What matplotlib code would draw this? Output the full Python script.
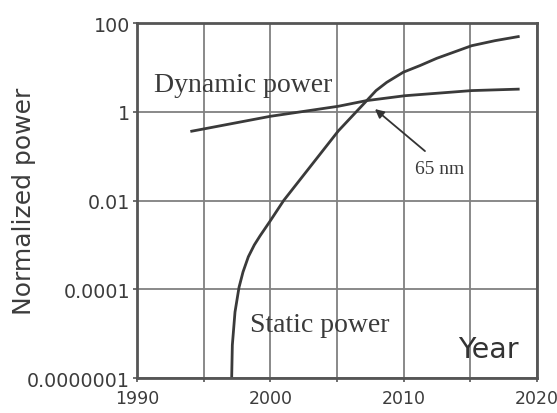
import matplotlib
matplotlib.use('Agg')

import matplotlib.pyplot as plt
import numpy as np

# static (leakage) power, normalized
static_years = [1997.1, 1997.15, 1997.35, 1997.65, 1997.95, 1998.35, 1998.8, 1999.23,
                2000.0, 2001.0, 2002.85, 2005.1, 2007.23, 2007.93, 2008.73, 2009.98,
                2011.23, 2012.48, 2015.1, 2016.85, 2018.7]
static_power = [1e-7, 1.3e-6, 1.7e-5, 1.1e-4, 2.45e-4, 5.4e-4, 1.0e-3, 1.6e-3,
                3.5e-3, 1.0e-2, 5.1e-2, 0.37, 1.78, 3.0, 4.6, 7.8,
                11.0, 16.0, 30.8, 40.0, 50.0]

# dynamic (switching) power, normalized
dynamic_years = [1994.0, 1995.0, 2000.0, 2005.1, 2007.2, 2010.1, 2015.1, 2018.7]
dynamic_power = [0.36, 0.41, 0.79, 1.33, 1.78, 2.3, 3.0, 3.24]

ytick_vals = [1e-7, 1e-4, 1e-2, 1, 100]
ytick_labels = ['0.0000001', '0.0001', '0.01', '1', '100']
xtick_vals = [1990, 2000, 2010, 2020]

node_year, node_power = 2007.85, 1.15   # 65 nm crossover
arrow_tail = (2011.6, 0.13)


# below 1e-4 the axis squeezes three decades into the room of two
def fwd(v):
    l = np.log10(np.clip(v, 1e-12, None))
    return np.where(l >= -4, l, -4 + (l + 4) * 2.0 / 3.0)

def inv(s):
    return np.where(s >= -4, 10.0 ** s, 10.0 ** (-4 + (s + 4) * 1.5))


fig = plt.figure(figsize=(5.57, 4.14), dpi=100)
ax = fig.add_axes([0.246, 0.0845, 0.718, 0.8575])
ax.set_yscale('function', functions=(fwd, inv))

ax.set_xlim(1990, 2020)
ax.set_ylim(1e-7, 100)

line_col = '#3a3a3a'
ax.plot(static_years, static_power, color=line_col, lw=2.0, solid_capstyle='butt',
        solid_joinstyle='round')
ax.plot(dynamic_years, dynamic_power, color=line_col, lw=2.0, solid_capstyle='butt',
        solid_joinstyle='round')

ax.set_xticks(xtick_vals)
ax.set_xticks([1995, 2005, 2015], minor=True)
ax.set_yticks(ytick_vals)
ax.set_yticklabels(ytick_labels)
ax.yaxis.set_minor_locator(matplotlib.ticker.NullLocator())
ax.grid(True, which='both', color='#808080', lw=1.3)
ax.set_axisbelow(True)

for s in ax.spines.values():
    s.set_color('#555555')
    s.set_linewidth(2.0)

ax.tick_params(axis='both', which='both', length=3, width=1.2, color='#555555',
               labelcolor='#3c3c3c')
ax.tick_params(axis='y', pad=2, labelsize=13.7)
ax.tick_params(axis='x', pad=5, labelsize=12.5)

ax.set_ylabel('Normalized power', fontsize=18, color='#3c3c3c')
ax.yaxis.set_label_coords(-0.2525, 0.50)

serif = 'Liberation Serif'
ax.text(0.266, 0.828, 'Dynamic power', transform=ax.transAxes, ha='center', va='center',
        family=serif, fontsize=20, color='#3a3a3a')
ax.text(0.457, 0.152, 'Static power', transform=ax.transAxes, ha='center', va='center',
        family=serif, fontsize=20, color='#3a3a3a')
ax.text(0.879, 0.082, 'Year', transform=ax.transAxes, ha='center', va='center',
        fontsize=20.5, color='#333333')
ax.text(0.757, 0.589, '65 nm', transform=ax.transAxes, ha='center', va='center',
        family=serif, fontsize=14, color='#3a3a3a')

ax.annotate('', xy=(node_year, node_power), xytext=arrow_tail,
            arrowprops=dict(arrowstyle='-|>', color='#333333', lw=1.3,
                            mutation_scale=13, shrinkA=0, shrinkB=0))

fig.savefig('out.png', dpi=100)
